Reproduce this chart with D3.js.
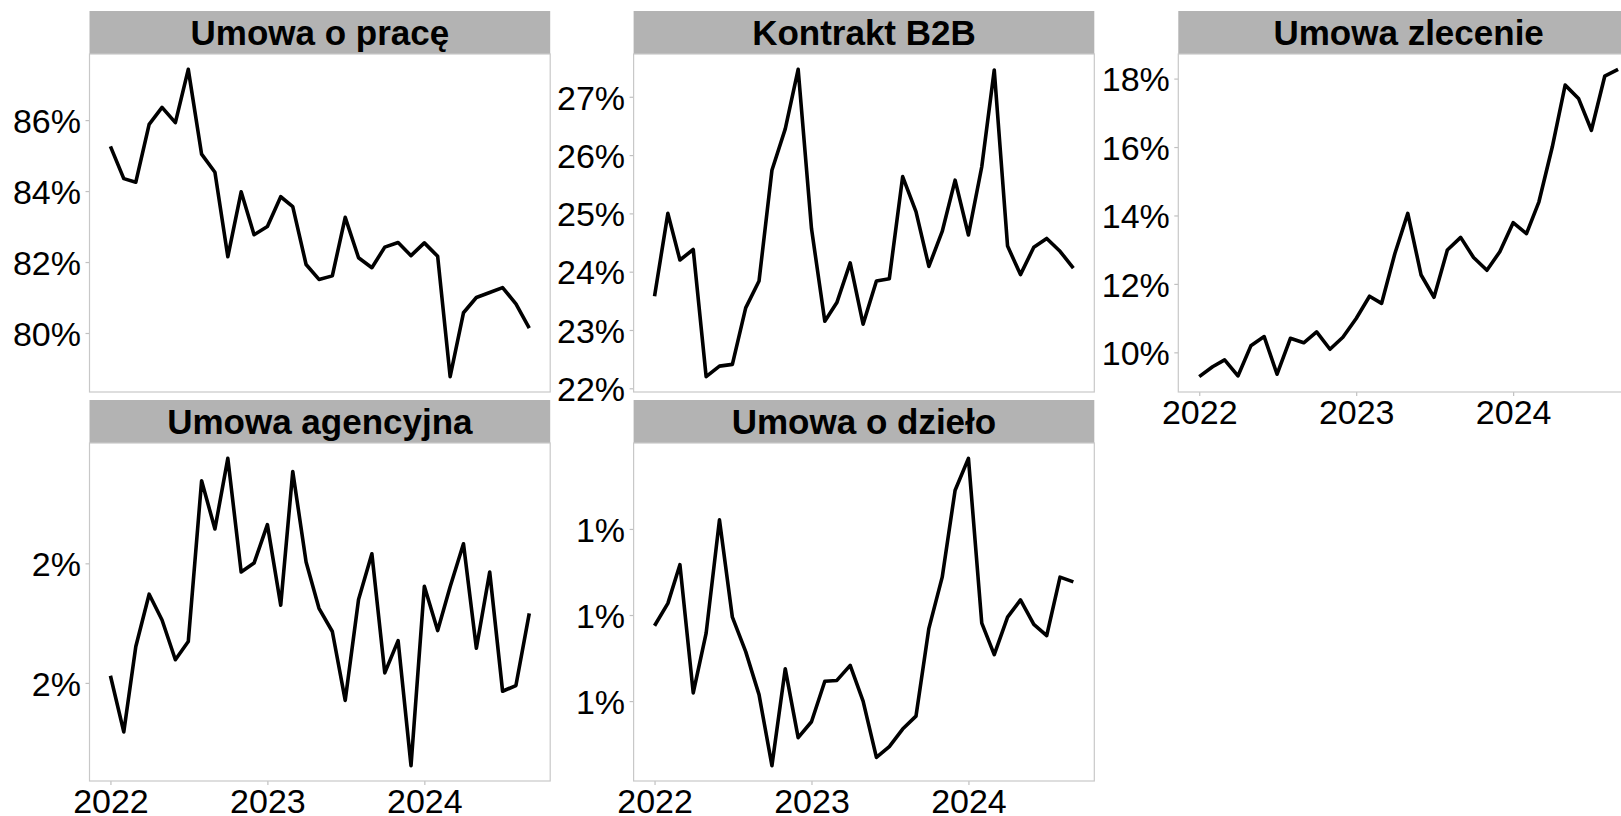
<!doctype html>
<html>
<head>
<meta charset="utf-8">
<style>
  body { margin: 0; background: #ffffff; }
  svg { display: block; font-family: "Liberation Sans", Arial, sans-serif; }
  .strip { fill: #b3b3b3; }
  .frame { fill: none; stroke: #c8c8c8; stroke-width: 1.2; }
  .series { fill: none; stroke: #000000; stroke-width: 3.6; stroke-linejoin: round; }
  .axis .tick line { stroke: #c0c0c0; stroke-width: 1.2; }
  .axis .domain { display: none; }
  .axis text { font-size: 34px; fill: #000000; font-family: "Liberation Sans", Arial, sans-serif; }
</style>
<script src="https://d3js.org/d3.v7.min.js"></script>
</head>
<body>
<svg width="1621" height="816"></svg>
<script>

var months = ["2022-01","2022-02","2022-03","2022-04","2022-05","2022-06","2022-07","2022-08","2022-09","2022-10","2022-11","2022-12",
              "2023-01","2023-02","2023-03","2023-04","2023-05","2023-06","2023-07","2023-08","2023-09","2023-10","2023-11","2023-12",
              "2024-01","2024-02","2024-03","2024-04","2024-05","2024-06","2024-07","2024-08","2024-09"];

// udział ofert (%) wg typu umowy
var umowaOPrace = [85.26, 84.35, 84.25, 85.88, 86.36, 85.93, 87.43, 85.04, 84.53, 82.15, 83.98, 82.77,
                   83.0, 83.84, 83.56, 81.93, 81.51, 81.61, 83.26, 82.12, 81.84, 82.42, 82.55, 82.18,
                   82.54, 82.16, 78.77, 80.57, 81.0, 81.14, 81.28, 80.82, 80.14];
var kontraktB2B = [23.58, 25.0, 24.2, 24.38, 22.2, 22.38, 22.41, 23.38, 23.84, 25.74, 26.45, 27.47,
                   24.74, 23.15, 23.47, 24.15, 23.1, 23.84, 23.88, 25.63, 25.03, 24.09, 24.69, 25.57,
                   24.63, 25.8, 27.46, 24.44, 23.95, 24.42, 24.57, 24.35, 24.06];
var umowaZlecenie = [9.29, 9.58, 9.78, 9.31, 10.19, 10.46, 9.36, 10.41, 10.28, 10.6, 10.09, 10.44,
                     10.99, 11.64, 11.43, 12.89, 14.06, 12.26, 11.61, 12.99, 13.36, 12.77, 12.4, 12.94,
                     13.79, 13.47, 14.4, 16.0, 17.81, 17.42, 16.49, 18.07, 18.27];
var umowaAgencyjna = [1.53, 1.295, 1.652, 1.871, 1.763, 1.597, 1.673, 2.345, 2.144, 2.439, 1.964, 2.001,
                      2.162, 1.825, 2.384, 2.006, 1.812, 1.715, 1.427, 1.849, 2.04, 1.542, 1.677, 1.154,
                      1.904, 1.719, 1.902, 2.082, 1.645, 1.964, 1.465, 1.489, 1.791];
var umowaODzielo = [0.975, 1.027, 1.117, 0.819, 0.958, 1.221, 0.995, 0.915, 0.815, 0.65, 0.875, 0.715,
                    0.752, 0.846, 0.848, 0.883, 0.8, 0.669, 0.694, 0.735, 0.765, 0.969, 1.088, 1.29,
                    1.364, 0.981, 0.908, 0.995, 1.035, 0.978, 0.952, 1.088, 1.077];

var titles = ["Umowa o pracę", "Kontrakt B2B", "Umowa zlecenie", "Umowa agencyjna", "Umowa o dzieło"];

var ticksPrace = [80, 82, 84, 86];
var ticksB2B = [22, 23, 24, 25, 26, 27];
var ticksZlecenie = [10, 12, 14, 16, 18];
var ticksAgencyjna = [1.5, 2.0];
var ticksDzielo = [0.8, 1.0, 1.2];

var yearLabels = ["2022", "2023", "2024"];

var svg = d3.select("svg");

var parseMonth = d3.timeParse("%Y-%m"),
    parseYear = d3.timeParse("%Y");
var dates = months.map(parseMonth);

var colLeft = [89.5, 633.6, 1178.3],
    panelW = 460.7,
    stripTop = [11, 400],
    stripH = 43,
    panelH = 338;

var panels = [
    {title: titles[0], values: umowaOPrace, ticks: ticksPrace, col: 0, row: 0, xAxis: false},
    {title: titles[1], values: kontraktB2B, ticks: ticksB2B, col: 1, row: 0, xAxis: false},
    {title: titles[2], values: umowaZlecenie, ticks: ticksZlecenie, col: 2, row: 0, xAxis: true},
    {title: titles[3], values: umowaAgencyjna, ticks: ticksAgencyjna, col: 0, row: 1, xAxis: true},
    {title: titles[4], values: umowaODzielo, ticks: ticksDzielo, col: 1, row: 1, xAxis: true}
];

// ggplot-style 5% expansion
var t0 = dates[0].getTime(), t1 = dates[dates.length - 1].getTime(),
    tPad = (t1 - t0) * 0.05;
var x = d3.scaleTime()
    .domain([new Date(t0 - tPad), new Date(t1 + tPad)])
    .range([0, panelW]);

panels.forEach(function(p) {
    var left = colLeft[p.col],
        sTop = stripTop[p.row],
        pTop = sTop + stripH;

    var ext = d3.extent(p.values),
        pad = (ext[1] - ext[0]) * 0.05;
    var y = d3.scaleLinear()
        .domain([ext[0] - pad, ext[1] + pad])
        .range([panelH, 0]);

    // strip
    svg.append("rect")
       .attr("class", "strip")
       .attr("x", left)
       .attr("y", sTop)
       .attr("width", panelW)
       .attr("height", stripH);
    svg.append("text")
       .attr("x", left + panelW / 2)
       .attr("y", sTop + stripH / 2 + 12.3)
       .attr("text-anchor", "middle")
       .attr("font-size", "35px")
       .attr("font-weight", "bold")
       .text(p.title);

    var g = svg.append("g")
               .attr("transform", "translate(" + left + "," + pTop + ")");

    g.append("g")
     .attr("class", "axis")
     .call(d3.axisLeft(y)
        .tickValues(p.ticks)
        .tickSize(4)
        .tickPadding(4.5)
        .tickFormat(function(d) { return Math.round(d) + "%"; }))
     .selectAll("text")
     .attr("dy", "0.36em");

    if (p.xAxis) {
        g.append("g")
         .attr("class", "axis")
         .attr("transform", "translate(0," + panelH + ")")
         .call(d3.axisBottom(x)
            .tickValues(yearLabels.map(parseYear))
            .tickSize(4)
            .tickPadding(3.5)
            .tickFormat(d3.timeFormat("%Y")));
    }

    var line = d3.line()
        .x(function(d, i) { return x(dates[i]); })
        .y(function(d) { return y(d); });

    g.append("path")
     .datum(p.values)
     .attr("class", "series")
     .attr("d", line);

    g.append("rect")
     .attr("class", "frame")
     .attr("width", panelW)
     .attr("height", panelH);
});
</script>
</body>
</html>
